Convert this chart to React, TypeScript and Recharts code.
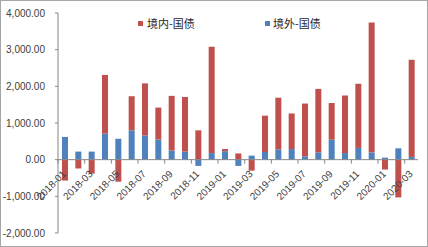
import React from 'react';
import { BarChart, Bar, XAxis, YAxis, ReferenceLine } from 'recharts';

const months = [
  '2018-01', '2018-02', '2018-03', '2018-04', '2018-05', '2018-06', '2018-07', '2018-08', '2018-09',
  '2018-10', '2018-11', '2018-12', '2019-01', '2019-02', '2019-03', '2019-04', '2019-05', '2019-06',
  '2019-07', '2019-08', '2019-09', '2019-10', '2019-11', '2019-12', '2020-01', '2020-02', '2020-03',
];

// 境内-国债
const domestic = [
  -570, -240, -380, 1600, -600, 930, 1420, 870, 1490,
  1490, 800, 2900, 60, 170, -300, 990, 1410, 970,
  1440, 1730, 1000, 1570, 1750, 3540, -270, -1030, 2650,
];

// 境外-国债
const foreign = [
  620, 220, 220, 710, 570, 800, 660, 550, 250,
  220, -170, 180, 230, -170, 110, 210, 280, 290,
  90, 200, 545, 180, 320, 200, 55, 310, 75,
];

const yTicks = [-2000, -1000, 0, 1000, 2000, 3000, 4000];

const data = months.map((m, i) => ({ month: m, domestic: domestic[i], foreign: foreign[i] }));

const W = 428;
const H = 247;
const X_AXIS_H = 1;
const MARGIN = { top: 13, right: 10, bottom: 14 - X_AXIS_H, left: 0 };
const Y_AXIS_W = 58;
const PLOT_W = W - MARGIN.left - MARGIN.right - Y_AXIS_W;
const PLOT_H = H - MARGIN.top - MARGIN.bottom - X_AXIS_H;
const Y_MIN = yTicks[0];
const Y_MAX = yTicks[yTicks.length - 1];
const ZERO_Y = MARGIN.top + (Y_MAX / (Y_MAX - Y_MIN)) * PLOT_H;
const BAND = PLOT_W / months.length;

const RED = '#C0504D';
const BLUE = '#4F81BD';
const AXIS = '#868686';
const FONT = '"Liberation Sans", Arial, sans-serif';

const fmt = (v: number) =>
  v.toLocaleString('en-US', { minimumFractionDigits: 2, maximumFractionDigits: 2 });

// x labels sit on the zero line, every other month, rotated
const MonthTick = (props: any) => {
  const { x, index, payload } = props;
  if (index % 2 !== 0) return <g />;
  const tx = x - BAND / 2;
  const ax = x + 2;
  const ay = ZERO_Y + 15;
  return (
    <g>
      <line x1={tx} x2={tx} y1={ZERO_Y} y2={ZERO_Y + 4} stroke={AXIS} />
      <text
        x={ax}
        y={ay}
        transform={`rotate(-45 ${ax} ${ay})`}
        textAnchor="end"
        fontSize={10}
        fontFamily={FONT}
        fill="#404040"
      >
        {payload.value}
      </text>
    </g>
  );
};

const legendItem: React.CSSProperties = {
  position: 'absolute',
  top: 16,
  display: 'flex',
  alignItems: 'center',
  lineHeight: '14px',
  fontFamily: '"Noto Sans CJK SC", sans-serif',
  fontSize: 11,
  color: '#262626',
};

const layer: React.CSSProperties = { position: 'absolute', left: 0, top: 0 };

export default function App() {
  return (
    <div style={{ position: 'fixed', left: 0, top: 0, width: W, height: H, background: '#fff' }}>
      <div style={layer}>
        <BarChart width={W} height={H} data={data} margin={MARGIN} stackOffset="sign" barSize={6}>
          <XAxis dataKey="month" height={X_AXIS_H} axisLine={false} tickLine={false} tick={false} />
          <YAxis
            width={Y_AXIS_W}
            domain={[Y_MIN, Y_MAX]}
            ticks={yTicks}
            tickFormatter={fmt}
            axisLine={{ stroke: AXIS }}
            tickLine={{ stroke: AXIS }}
            tickSize={3}
            tickMargin={10}
            tick={{ fontSize: 10, fontFamily: FONT, fill: '#404040' }}
          />
          <ReferenceLine y={0} stroke={AXIS} />
          <Bar dataKey="foreign" name="境外-国债" stackId="a" fill={BLUE} isAnimationActive={false} />
          <Bar dataKey="domestic" name="境内-国债" stackId="a" fill={RED} isAnimationActive={false} />
        </BarChart>
      </div>
      {/* month labels drawn above the bars, as in the original */}
      <div style={{ ...layer, pointerEvents: 'none' }}>
        <BarChart width={W} height={H} data={data} margin={MARGIN}>
          <XAxis
            dataKey="month"
            height={X_AXIS_H}
            axisLine={false}
            tickLine={false}
            interval={0}
            tick={(p: any) => <MonthTick {...p} />}
          />
          <YAxis width={Y_AXIS_W} domain={[Y_MIN, Y_MAX]} ticks={yTicks} axisLine={false} tickLine={false} tick={false} />
        </BarChart>
      </div>
      <div style={{ ...legendItem, left: 138 }}>
        <span style={{ width: 5, height: 5, background: RED, marginRight: 4, display: 'inline-block' }} />
        境内-国债
      </div>
      <div style={{ ...legendItem, left: 265 }}>
        <span style={{ width: 5, height: 5, background: BLUE, marginRight: 3, display: 'inline-block' }} />
        境外-国债
      </div>
      <div style={{ position: 'absolute', inset: 0, border: '1px solid #a6a6a6', pointerEvents: 'none' }} />
    </div>
  );
}
